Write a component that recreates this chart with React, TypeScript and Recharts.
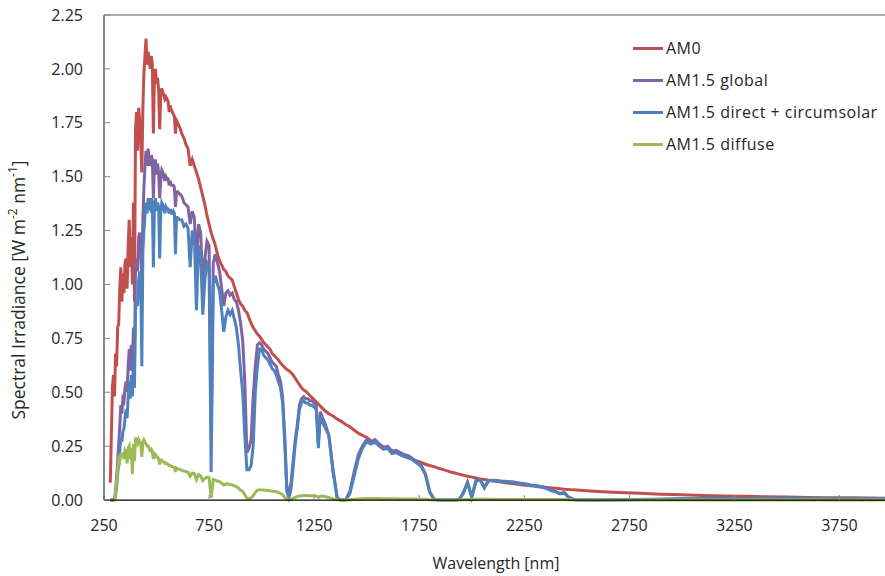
import React from "react";
import { LineChart, Line, XAxis, YAxis, Legend, ReferenceLine } from "recharts";

// wavelength grid [nm]: 5 nm to 600, 10 nm to 1300, 20 nm to 2500, 100 nm to 4000
const wavelengths = [
  280, 285, 290, 295, 300, 305, 310, 315, 320, 325,
  330, 335, 340, 345, 350, 355, 360, 365, 370, 375,
  380, 385, 390, 395, 400, 405, 410, 415, 420, 425,
  430, 435, 440, 445, 450, 455, 460, 465, 470, 475,
  480, 485, 490, 495, 500, 505, 510, 515, 520, 525,
  530, 535, 540, 545, 550, 555, 560, 565, 570, 575,
  580, 585, 590, 595, 600,
  610, 620, 630, 640, 650, 660, 670, 680, 690, 700,
  710, 720, 730, 740, 750, 760, 770, 780, 790, 800,
  810, 820, 830, 840, 850, 860, 870, 880, 890, 900,
  910, 920, 930, 940, 950, 960, 970, 980, 990, 1000,
  1010, 1020, 1030, 1040, 1050, 1060, 1070, 1080, 1090, 1100,
  1110, 1120, 1130, 1140, 1150, 1160, 1170, 1180, 1190, 1200,
  1210, 1220, 1230, 1240, 1250, 1260, 1270, 1280, 1290, 1300,
  1320, 1340, 1360, 1380, 1400, 1420, 1440, 1460, 1480, 1500,
  1520, 1540, 1560, 1580, 1600, 1620, 1640, 1660, 1680, 1700,
  1720, 1740, 1760, 1780, 1800, 1820, 1840, 1860, 1880, 1900,
  1920, 1940, 1960, 1980, 2000, 2020, 2040, 2060, 2080, 2100,
  2120, 2140, 2160, 2180, 2200, 2220, 2240, 2260, 2280, 2300,
  2320, 2340, 2360, 2380, 2400, 2420, 2440, 2460, 2480, 2500,
  2600, 2700, 2800, 2900, 3000, 3100, 3200, 3300, 3400, 3500,
  3600, 3700, 3800, 3900, 4000,
];

const am0 = [
  0.08, 0.3, 0.52, 0.58, 0.48, 0.68, 0.62, 0.8, 0.82, 0.98,
  1.08, 0.92, 1.05, 0.96, 1.1, 1.12, 0.98, 1.18, 1.3, 1.08,
  1.22, 1.0, 1.38, 0.92, 1.72, 1.8, 1.62, 1.82, 1.76, 1.68,
  1.52, 1.82, 1.98, 2.06, 2.14, 2.02, 2.08, 2.04, 2.0, 2.06,
  2.02, 1.7, 1.96, 2.0, 1.93, 1.96, 1.9, 1.72, 1.87, 1.91,
  1.89, 1.88, 1.86, 1.87, 1.86, 1.85, 1.8, 1.83, 1.81, 1.8,
  1.79, 1.78, 1.7, 1.76, 1.75,
  1.73, 1.7, 1.68, 1.65, 1.63, 1.55, 1.58, 1.55, 1.52, 1.49,
  1.45, 1.41, 1.37, 1.32, 1.28, 1.24, 1.21, 1.18, 1.14, 1.11,
  1.09, 1.07, 1.06, 1.04, 1.03, 1.02, 0.99, 0.96, 0.93, 0.91,
  0.9, 0.88, 0.87, 0.845, 0.82, 0.8, 0.785, 0.77, 0.76, 0.745,
  0.73, 0.72, 0.71, 0.7, 0.68, 0.67, 0.66, 0.65, 0.635, 0.625,
  0.615, 0.605, 0.6, 0.59, 0.58, 0.565, 0.55, 0.535, 0.52, 0.51,
  0.505, 0.495, 0.485, 0.475, 0.465, 0.455, 0.445, 0.435, 0.425, 0.415,
  0.4, 0.39, 0.375, 0.365, 0.35, 0.34, 0.325, 0.31, 0.3, 0.29,
  0.275, 0.265, 0.255, 0.245, 0.238, 0.23, 0.222, 0.21, 0.202, 0.195,
  0.188, 0.18, 0.174, 0.166, 0.16, 0.155, 0.148, 0.142, 0.136, 0.13,
  0.125, 0.12, 0.115, 0.11, 0.106, 0.102, 0.098, 0.095, 0.092, 0.089,
  0.086, 0.083, 0.08, 0.078, 0.075, 0.073, 0.07, 0.068, 0.066, 0.064,
  0.062, 0.06, 0.058, 0.056, 0.054, 0.052, 0.05, 0.049, 0.047, 0.046,
  0.04, 0.035, 0.031, 0.027, 0.024, 0.021, 0.019, 0.017, 0.015, 0.0135,
  0.012, 0.011, 0.01, 0.009, 0.0085,
];

const am15Global = [
  0, 0, 0, 0, 0.005, 0.04, 0.1, 0.18, 0.26, 0.34,
  0.44, 0.4, 0.47, 0.46, 0.52, 0.55, 0.5, 0.62, 0.7, 0.6,
  0.72, 0.6, 0.8, 0.62, 1.08, 1.12, 1.06, 1.22, 1.24, 1.18,
  1.02, 1.3, 1.45, 1.55, 1.62, 1.55, 1.63, 1.57, 1.55, 1.6,
  1.58, 1.4, 1.55, 1.58, 1.51, 1.56, 1.52, 1.4, 1.48, 1.53,
  1.52, 1.5, 1.48, 1.5, 1.49, 1.49, 1.46, 1.48, 1.46, 1.46,
  1.46, 1.45, 1.36, 1.43, 1.43,
  1.42, 1.41, 1.38, 1.37, 1.36, 1.28, 1.34, 1.31, 1.1, 1.28,
  1.24, 1.0, 1.12, 1.2, 1.18, 0.28, 1.1, 1.14, 1.1, 1.06,
  0.98, 0.9, 0.96, 0.97, 0.95, 0.96, 0.93, 0.92, 0.88, 0.82,
  0.74, 0.55, 0.22, 0.24, 0.28, 0.48, 0.62, 0.72, 0.73, 0.72,
  0.7, 0.69, 0.68, 0.66, 0.64, 0.63, 0.62, 0.58, 0.55, 0.48,
  0.3, 0.06, 0.04, 0.08, 0.18, 0.28, 0.35, 0.44, 0.47, 0.48,
  0.47, 0.47, 0.46, 0.46, 0.45, 0.44, 0.27, 0.41, 0.38, 0.36,
  0.3, 0.14, 0.01, 0, 0.002, 0.04, 0.13, 0.21, 0.25, 0.28,
  0.27, 0.28, 0.26, 0.245, 0.25, 0.225, 0.23, 0.22, 0.21, 0.205,
  0.19, 0.175, 0.16, 0.12, 0.04, 0.005, 0, 0, 0, 0,
  0, 0.002, 0.035, 0.082, 0.015, 0.09, 0.095, 0.06, 0.09, 0.092,
  0.09, 0.088, 0.087, 0.085, 0.083, 0.08, 0.077, 0.074, 0.07, 0.068,
  0.064, 0.06, 0.055, 0.045, 0.04, 0.03, 0.035, 0.015, 0.005, 0.001,
  0, 0.001, 0.002, 0.004, 0.006, 0.007, 0.008, 0.006, 0.007, 0.008,
  0.007, 0.007, 0.006, 0.006, 0.006,
];

const am15Direct = [
  0, 0, 0, 0, 0.002, 0.02, 0.06, 0.12, 0.17, 0.23,
  0.29, 0.27, 0.32, 0.33, 0.38, 0.42, 0.38, 0.48, 0.55, 0.47,
  0.58, 0.48, 0.66, 0.52, 0.88, 0.92, 0.9, 1.02, 1.06, 1.02,
  0.62, 1.15, 1.25, 1.32, 1.38, 1.33, 1.4, 1.36, 1.35, 1.4,
  1.38, 1.08, 1.36, 1.4, 1.34, 1.38, 1.36, 1.12, 1.33, 1.38,
  1.37, 1.35, 1.33, 1.36, 1.35, 1.35, 1.33, 1.35, 1.33, 1.33,
  1.34, 1.33, 1.14, 1.31, 1.31,
  1.3, 1.3, 1.27, 1.28, 1.26, 1.08, 1.25, 1.22, 0.88, 1.18,
  1.14, 0.86, 1.02, 1.1, 1.08, 0.13, 1.0, 1.04, 1.0, 0.97,
  0.88, 0.78, 0.85, 0.88, 0.86, 0.88, 0.84, 0.8, 0.72, 0.6,
  0.5, 0.3, 0.14, 0.14, 0.16, 0.25, 0.5, 0.62, 0.7, 0.7,
  0.67, 0.66, 0.65, 0.63, 0.61, 0.6, 0.58, 0.55, 0.52, 0.45,
  0.27, 0.04, 0.01, 0.05, 0.15, 0.26, 0.33, 0.42, 0.45, 0.46,
  0.45, 0.45, 0.44, 0.44, 0.43, 0.42, 0.24, 0.39, 0.36, 0.34,
  0.3, 0.13, 0.005, 0, 0, 0.03, 0.11, 0.19, 0.24, 0.27,
  0.26, 0.27, 0.25, 0.235, 0.24, 0.215, 0.22, 0.21, 0.2, 0.198,
  0.185, 0.17, 0.155, 0.115, 0.035, 0.004, 0, 0, 0, 0,
  0, 0.002, 0.03, 0.08, 0.012, 0.085, 0.094, 0.055, 0.088, 0.09,
  0.088, 0.086, 0.085, 0.083, 0.081, 0.078, 0.075, 0.072, 0.068, 0.066,
  0.062, 0.058, 0.052, 0.043, 0.038, 0.028, 0.033, 0.013, 0.004, 0,
  0, 0.001, 0.002, 0.004, 0.006, 0.007, 0.008, 0.006, 0.007, 0.008,
  0.007, 0.007, 0.006, 0.006, 0.006,
];

const am15Diffuse = [
  0, 0, 0, 0, 0.003, 0.03, 0.08, 0.14, 0.19, 0.18,
  0.22, 0.2, 0.22, 0.19, 0.23, 0.22, 0.17, 0.24, 0.25, 0.19,
  0.24, 0.12, 0.26, 0.18, 0.29, 0.27, 0.26, 0.28, 0.27, 0.26,
  0.2, 0.27, 0.28, 0.27, 0.26, 0.25, 0.25, 0.24, 0.23, 0.235,
  0.225, 0.19, 0.215, 0.21, 0.2, 0.2, 0.19, 0.165, 0.185, 0.185,
  0.18, 0.175, 0.17, 0.172, 0.168, 0.165, 0.16, 0.16, 0.155, 0.155,
  0.152, 0.15, 0.13, 0.148, 0.145,
  0.142, 0.138, 0.134, 0.132, 0.128, 0.11, 0.125, 0.122, 0.095, 0.118,
  0.112, 0.09, 0.1, 0.106, 0.104, 0.01, 0.095, 0.092, 0.088, 0.085,
  0.078, 0.07, 0.074, 0.075, 0.072, 0.07, 0.066, 0.062, 0.055, 0.045,
  0.04, 0.025, 0.008, 0.006, 0.01, 0.02, 0.035, 0.045, 0.048, 0.047,
  0.046, 0.045, 0.044, 0.043, 0.041, 0.04, 0.038, 0.035, 0.03, 0.025,
  0.012, 0.002, 0.001, 0.003, 0.008, 0.012, 0.016, 0.019, 0.02, 0.021,
  0.021, 0.021, 0.02, 0.02, 0.02, 0.019, 0.012, 0.018, 0.017, 0.016,
  0.012, 0.005, 0.001, 0, 0, 0.001, 0.003, 0.005, 0.006, 0.007,
  0.007, 0.007, 0.007, 0.006, 0.006, 0.006, 0.006, 0.005, 0.005, 0.005,
  0.005, 0.004, 0.004, 0.003, 0.001, 0, 0, 0, 0, 0,
  0, 0, 0.001, 0.002, 0.001, 0.003, 0.003, 0.003, 0.003, 0.003,
  0.002, 0.002, 0.002, 0.002, 0.002, 0.002, 0.002, 0.002, 0.002, 0.002,
  0.002, 0.002, 0.002, 0.002, 0.002, 0.002, 0.002, 0.001, 0, 0,
  0, 0, 0, 0, 0, 0, 0, 0, 0, 0,
  0, 0, 0, 0, 0,
];

const xTicks = [250, 750, 1250, 1750, 2250, 2750, 3250, 3750];
const yTicks = [0, 0.25, 0.5, 0.75, 1, 1.25, 1.5, 1.75, 2, 2.25];

const SERIES = [
  { key: "am0", name: "AM0", color: "#C0504D" },
  { key: "global", name: "AM1.5 global", color: "#8064A2" },
  { key: "direct", name: "AM1.5 direct + circumsolar", color: "#4F81BD" },
  { key: "diffuse", name: "AM1.5 diffuse", color: "#9BBB59" },
];

const FONT = "'Open Sans', 'Liberation Sans', sans-serif";
const TEXT = "#262626";

const data = wavelengths.map((wl, i) => ({
  wl,
  am0: am0[i],
  global: am15Global[i],
  direct: am15Direct[i],
  diffuse: am15Diffuse[i],
}));

const renderLegend = () => (
  <div style={{ fontFamily: FONT, fontSize: 16, color: TEXT, letterSpacing: 0.5 }}>
    {SERIES.map((s) => (
      <div key={s.key} style={{ display: "flex", alignItems: "center", height: 32 }}>
        <span style={{ display: "inline-block", width: 30, height: 3, background: s.color, marginRight: 3 }} />
        <span>{s.name}</span>
      </div>
    ))}
  </div>
);

const YTitle = () => (
  <text
    x={18}
    y={290}
    transform="rotate(-90, 18, 290)"
    textAnchor="middle"
    dominantBaseline="central"
    fontFamily={FONT}
    fontSize={17.5}
    fill={TEXT}
  >
    Spectral Irradiance [W m
    <tspan dy={-6} fontSize={12}>-2</tspan>
    <tspan dy={6}> nm</tspan>
    <tspan dy={-6} fontSize={12}>-1</tspan>
    <tspan dy={6}>]</tspan>
  </text>
);

const XTitle = () => (
  <text x={496} y={569} textAnchor="middle" fontFamily={FONT} fontSize={16} fill={TEXT}>
    Wavelength [nm]
  </text>
);

export default function App() {
  return (
    <div style={{ position: "absolute", left: 0, top: 0, width: 885, height: 576, overflow: "hidden", background: "#fff" }}>
      <LineChart width={900} height={576} data={data} margin={{ top: 15, right: 8, left: 0, bottom: 0 }}>
        <XAxis
          dataKey="wl"
          type="number"
          domain={[250, 4000]}
          ticks={xTicks}
          height={76}
          tickSize={-5}
          tickMargin={25}
          axisLine={{ stroke: "#000", strokeWidth: 1.25 }}
          tickLine={{ stroke: "#868686" }}
          tick={{ fontFamily: FONT, fontSize: 16, fill: TEXT }}
          label={<XTitle />}
        />
        <YAxis
          type="number"
          domain={[0, 2.25]}
          ticks={yTicks}
          width={104}
          tickSize={-6}
          tickMargin={27}
          tickFormatter={(v: number) => v.toFixed(2)}
          axisLine={{ stroke: "#404040", strokeWidth: 1.25 }}
          tickLine={{ stroke: "#868686" }}
          tick={{ fontFamily: FONT, fontSize: 16, fill: TEXT }}
          label={<YTitle />}
        />
        <ReferenceLine y={2.25} stroke="#595959" strokeWidth={1} />
        <Legend
          layout="vertical"
          align="center"
          verticalAlign="middle"
          content={renderLegend}
          wrapperStyle={{ top: 32, left: 633, width: 260 }}
        />
        {SERIES.map((s) => (
          <Line
            key={s.key}
            dataKey={s.key}
            name={s.name}
            type="linear"
            stroke={s.color}
            strokeWidth={3}
            dot={false}
            activeDot={false}
            isAnimationActive={false}
          />
        ))}
      </LineChart>
    </div>
  );
}
